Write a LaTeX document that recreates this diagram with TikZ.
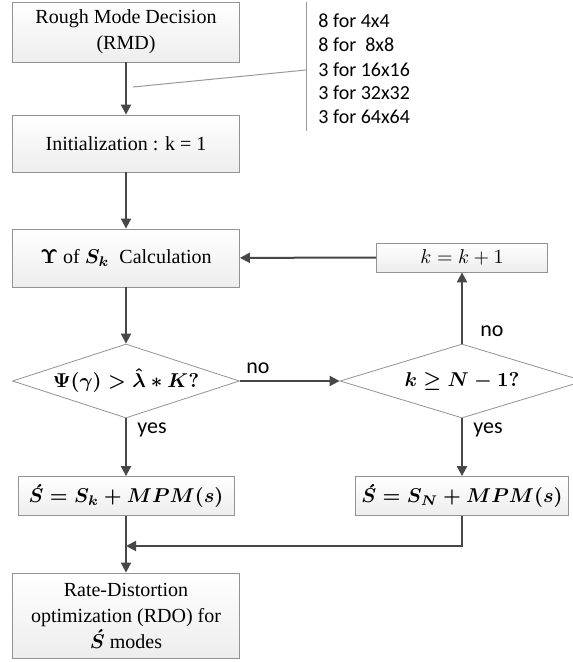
\documentclass[tikz,border=0pt]{standalone}
\usepackage{amsmath}
\usepackage{fontspec}
\setmainfont{Liberation Serif}
\newfontfamily\calibri{Carlito}
\usetikzlibrary{shapes.geometric,arrows.meta}
\begin{document}
\begin{tikzpicture}[x=0.5pt,y=-0.5pt]
    \tikzstyle{box}=[rectangle, draw=gray!85, top color=white, bottom color=gray!14, minimum width=113.5pt, align=center, inner sep=0pt, font=\fontsize{10}{13}\selectfont]
    \tikzstyle{decision}=[diamond, aspect=3.1, draw=gray!85, fill=white, inner sep=0pt, font=\fontsize{10}{12}\selectfont]
    \tikzstyle{flow}=[draw=black!72, line width=1pt, -{Triangle[length=5pt,width=5pt]}]
    \tikzstyle{note}=[anchor=west, inner sep=0pt, font=\calibri\fontsize{10}{12}\selectfont]
    \tikzstyle{answer}=[anchor=west, inner sep=0pt, font=\calibri\fontsize{11}{12}\selectfont]

    \useasboundingbox (0,0) rectangle (572,662);

    % left column
    \node[box, minimum height=30pt] (rmd) at (126,32) {Rough Mode Decision\\(RMD)};
    \node[box, minimum height=28.5pt] (init) at (126,143.5) {Initialization : k = 1};
    \node[box, minimum height=29pt] (calc) at (126,258) {$\boldsymbol{\Upsilon}$ of $\boldsymbol{S_k}$\ \ Calculation};
    \node[decision, minimum width=113.5pt, minimum height=37pt] (test1) at (126,381) {$\boldsymbol{\Psi(\gamma) > \hat{\lambda} * K?}$};
    \node[box, minimum width=108pt, minimum height=19.5pt, font=\fontsize{10}{12}\selectfont] (sk) at (126,496) {$\boldsymbol{\acute{S} = S_k + MPM(s)}$};
    \node[box, minimum height=42.5pt] (rdo) at (126,615.5) {Rate-Distortion\\optimization (RDO) for\\$\boldsymbol{\acute{S}}$ modes};

    % right column
    \node[box, minimum width=85.5pt, minimum height=14.5pt] (inc) at (462,257.5) {$k = k + 1$};
    \node[decision, aspect=3.3, minimum width=122pt, minimum height=37pt] (test2) at (462,381) {$\boldsymbol{k \geq N - 1?}$};
    \node[box, minimum width=106.5pt, minimum height=19.5pt, font=\fontsize{10}{12}\selectfont] (sn) at (462,496) {$\boldsymbol{\acute{S} = S_N + MPM(s)}$};
    \coordinate (join) at (126,546);

    % connectors
    \draw[flow] (rmd) -- (init);
    \draw[flow] (init) -- (calc);
    \draw[flow] (calc) -- (test1);
    \draw[flow] (test1) -- (test2);
    \draw[flow] (test2) -- (inc);
    \draw[flow] (inc) -- (calc);
    \draw[flow] (test1) -- (sk);
    \draw[flow] (test2) -- (sn);
    \draw[flow] (sn.south) |- (join);
    \draw[flow] (sk) -- (rdo);

    \node[answer] (no1) at (246,368) {no};
    \node[answer] (no2) at (480,331) {no};
    \node[answer] (yes1) at (137,430) {yes};
    \node[answer] (yes2) at (473,430) {yes};

    % block counts
    \coordinate (bartop) at (306,2);
    \coordinate (barbottom) at (306,131);
    \coordinate (barmid) at (306,70);
    \coordinate (arrowmark) at (133,87);
    \draw[draw=gray!80, line width=0.5pt] (bartop) -- (barbottom);
    \draw[draw=gray!80, line width=0.5pt] (arrowmark) -- (barmid);
    \node[note] (n4) at (318,21) {8 for 4x4};
    \node[note] (n8) at (318,45) {8 for \ 8x8};
    \node[note] (n16) at (318,70) {3 for 16x16};
    \node[note] (n32) at (318,93) {3 for 32x32};
    \node[note] (n64) at (318,117) {3 for 64x64};

\end{tikzpicture}
\end{document}
